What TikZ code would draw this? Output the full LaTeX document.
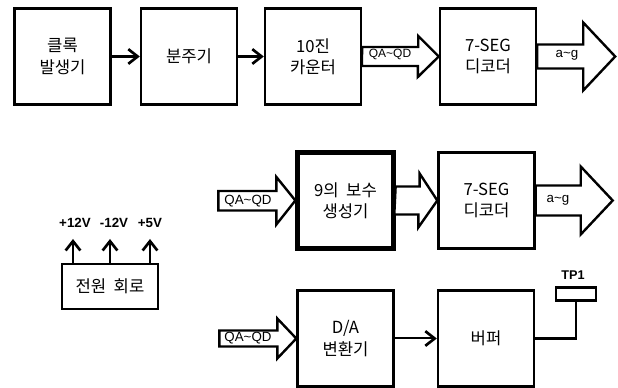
\documentclass[tikz,border=0pt]{standalone}
\usepackage{fontspec}
\setmainfont{Noto Sans CJK KR}
\newfontfamily\lsans{Liberation Sans}
\usetikzlibrary{arrows.meta,calc}

\begin{document}
\begin{tikzpicture}[x=0.75pt,y=-0.75pt,
  every node/.style={inner sep=0pt, font=\fontsize{12.5}{16}\selectfont, align=center},
  blk/.style={draw, line width=1.8pt, minimum width=72pt, minimum height=72pt},
  cmpblk/.style={blk, line width=3.2pt},
  fat/.style={draw, line width=1.8pt, fill=white, line join=miter},
  arr/.style={line width=2pt, -{Straight Barb[length=7pt,width=11pt,line width=2pt]}},
  bus/.style={font=\lsans\fontsize{10}{12}\selectfont},
  volt/.style={font=\lsans\bfseries\fontsize{10}{12}\selectfont}]

  \useasboundingbox (0,0) rectangle (618,388);

  % first row
  \node[blk] (clk) at (62.5,56.5) {클록\\발생기};
  \node[blk] (div) at (189,56.5) {분주기};
  \node[blk] (cnt) at (313,56.5) {10진\\카운터};
  \node[blk] (seg) at (488,56.5) {7-SEG\\디코더};

  \draw[arr] (clk) -- (div);
  \draw[arr] (div) -- (cnt);
  \draw[fat] (cnt.east) ++(0,-9.5) -- ++(56,0) -- ++(0,-11) -- (seg.west) -- ++(-21,20.5) -- ++(0,-11) -- ++(-56,0) -- cycle;
  \draw[fat] (seg.east) ++(0,-12) -- ++(46,0) -- ++(0,-22) -- ++(32,34) -- ++(-32,34) -- ++(0,-22) -- ++(-46,0) -- cycle;
  \node[bus, font=\lsans\fontsize{9}{11}\selectfont] (qa1) at (390,54) {QA\textasciitilde QD};
  \node[bus] (ag1) at (567,55) {a\textasciitilde g};

  % second row
  \node[cmpblk] (cmp) at (345.5,200.5) {9의 \ 보수\\생성기};
  \node[blk] (seg2) at (486.5,200.5) {7-SEG\\디코더};

  \draw[fat] (cmp.west) ++(-77,-9.5) -- ++(58,0) -- ++(0,-14) -- (cmp.west) -- ++(-19,24) -- ++(0,-14) -- ++(-58,0) -- cycle;
  \draw[fat] (cmp.east) ++(0,-14) -- ++(24,0) -- ++(0,-13) -- (seg2.west) -- ++(-19,27) -- ++(0,-13) -- ++(-24,0) -- cycle;
  \draw[fat] (seg2.east) ++(0,-15) -- ++(45,0) -- ++(0,-19) -- ++(32,34) -- ++(-32,34) -- ++(0,-19) -- ++(-45,0) -- cycle;
  \node[bus] (qa2) at (248,201) {QA\textasciitilde QD};
  \node[bus] (ag2) at (558,200) {a\textasciitilde g};

  % power supply
  \node[draw, line width=1.8pt, minimum width=72pt, minimum height=34pt] (pwr) at (110,286.5) {전원 \ 회로};
  \node[volt] (p12) at (75,223) {+12V};
  \node[volt] (m12) at (114,223) {-12V};
  \node[volt] (p5) at (150,223) {+5V};
  \coordinate (a12) at (73,239);
  \coordinate (b12) at (110,239);
  \coordinate (c5) at (150,239);
  \draw[arr] (a12 |- pwr.north) -- (a12);
  \draw[arr] (b12 |- pwr.north) -- (b12);
  \draw[arr] (c5 |- pwr.north) -- (c5);

  % third row
  \node[blk] (dac) at (345.5,338.5) {D/A\\변환기};
  \node[blk] (buf) at (486,338.5) {버퍼};
  \draw[fat] (dac.west) ++(-77,-8) -- ++(58,0) -- ++(0,-12) -- (dac.west) -- ++(-19,20) -- ++(0,-12) -- ++(-58,0) -- cycle;
  \node[bus] (qa3) at (248,338) {QA\textasciitilde QD};
  \draw[arr, line width=1.5pt] (dac) -- (buf);

  \node[draw, line width=1.8pt, minimum width=30pt, minimum height=10pt] (tp) at (576,294) {};
  \node[volt, font=\lsans\bfseries\fontsize{9.5}{11}\selectfont] (tpl) at (573,275) {TP1};
  \draw[line width=1.8pt] (buf.east) -| (tp.south);
\end{tikzpicture}
\end{document}
